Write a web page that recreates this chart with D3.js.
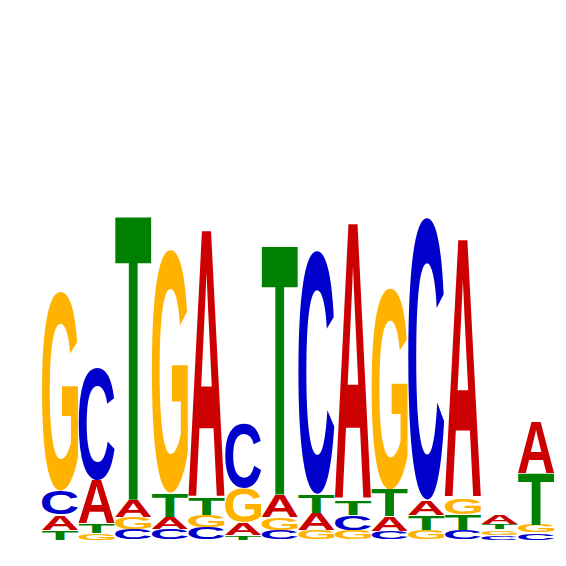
<!DOCTYPE html>
<html>
<head>
<meta charset="utf-8">
<script src="https://cdn.jsdelivr.net/npm/d3@7"></script>
<style>
  body { margin: 0; background: #fff; }
</style>
</head>
<body>
<div id="logo"></div>
<script>
// information content (bits) per letter at each position
var positions = [1, 2, 3, 4, 5, 6, 7, 8, 9, 10, 11, 12, 13, 14];
var bitsA = [0.058, 0.169, 0.065, 0.046, 1.031, 0.046, 0.085, 0.065, 1.065, 0.058, 0.059, 0.996, 0.038, 0.200];
var bitsC = [0.092, 0.435, 0.042, 0.042, 0.046, 0.250, 0.038, 0.938, 0.057, 0.031, 1.088, 0.038, 0.019, 0.027];
var bitsG = [0.769, 0.027, 0.046, 0.938, 0.050, 0.135, 0.050, 0.038, 0.038, 0.777, 0.038, 0.063, 0.020, 0.031];
var bitsT = [0.038, 0.035, 1.092, 0.092, 0.065, 0.019, 0.958, 0.073, 0.059, 0.104, 0.057, 0.060, 0.021, 0.198];

var letters = ["A", "C", "G", "T"];
var colors = ["#cc0000", "#0000cc", "#ffb300", "#008000"];

var width = 566, height = 566;
var font = "'Liberation Sans', Arial, sans-serif";

var svg = d3.select("#logo")
    .append("svg")
    .attr("width", width)
    .attr("height", height);

var x = d3.scaleBand()
    .domain(positions)
    .range([42, 554])
    .paddingInner(0.02);

var y = d3.scaleLinear()
    .domain([0, 2])
    .range([540, 20]);

var color = d3.scaleOrdinal()
    .domain(letters)
    .range(colors);

var table = { A: bitsA, C: bitsC, G: bitsG, T: bitsT };

// measure the ink box of each glyph on a canvas
var ink = {};
var cv = document.createElement("canvas");
cv.width = 400; cv.height = 400;
var ctx = cv.getContext("2d");
letters.forEach(function (l) {
    ctx.clearRect(0, 0, 400, 400);
    ctx.font = "bold 200px " + font;
    ctx.textBaseline = "alphabetic";
    ctx.fillStyle = "#000";
    ctx.fillText(l, 50, 300);
    var px = ctx.getImageData(0, 0, 400, 400).data;
    var x0 = 400, x1 = 0, y0 = 400, y1 = 0;
    for (var j = 0; j < 400; j++) {
        for (var i = 0; i < 400; i++) {
            if (px[(j * 400 + i) * 4 + 3] > 100) {
                if (i < x0) x0 = i; if (i > x1) x1 = i;
                if (j < y0) y0 = j; if (j > y1) y1 = j;
            }
        }
    }
    ink[l] = { x: x0 - 50, y: y0 - 300, w: x1 - x0 + 1, h: y1 - y0 + 1 };
});

// build stacks: smallest letter at the bottom
var stacks = positions.map(function (p, i) {
    var col = letters.map(function (l) { return { letter: l, pos: p, bits: table[l][i] }; });
    col.sort(function (a, b) { return a.bits - b.bits; });
    var acc = 0;
    col.forEach(function (d) { d.y0 = acc; acc += d.bits; d.y1 = acc; });
    return col;
});

svg.selectAll("text.glyph")
    .data(d3.merge(stacks))
    .enter()
    .append("text")
    .attr("class", "glyph")
    .style("font-family", font)
    .style("font-weight", "bold")
    .style("font-size", "200px")
    .style("fill", function (d) { return color(d.letter); })
    .text(function (d) { return d.letter; })
    .attr("transform", function (d) {
        var m = ink[d.letter];
        var top = y(d.y1), bottom = y(d.y0);
        var h = Math.max(bottom - top - 0.8, 0.3);
        var sx = x.bandwidth() / m.w, sy = h / m.h;
        return "translate(" + x(d.pos) + "," + (top + 0.4) + ") scale(" + sx + "," + sy + ") translate(" + (-m.x) + "," + (-m.y) + ")";
    });
</script>
</body>
</html>
